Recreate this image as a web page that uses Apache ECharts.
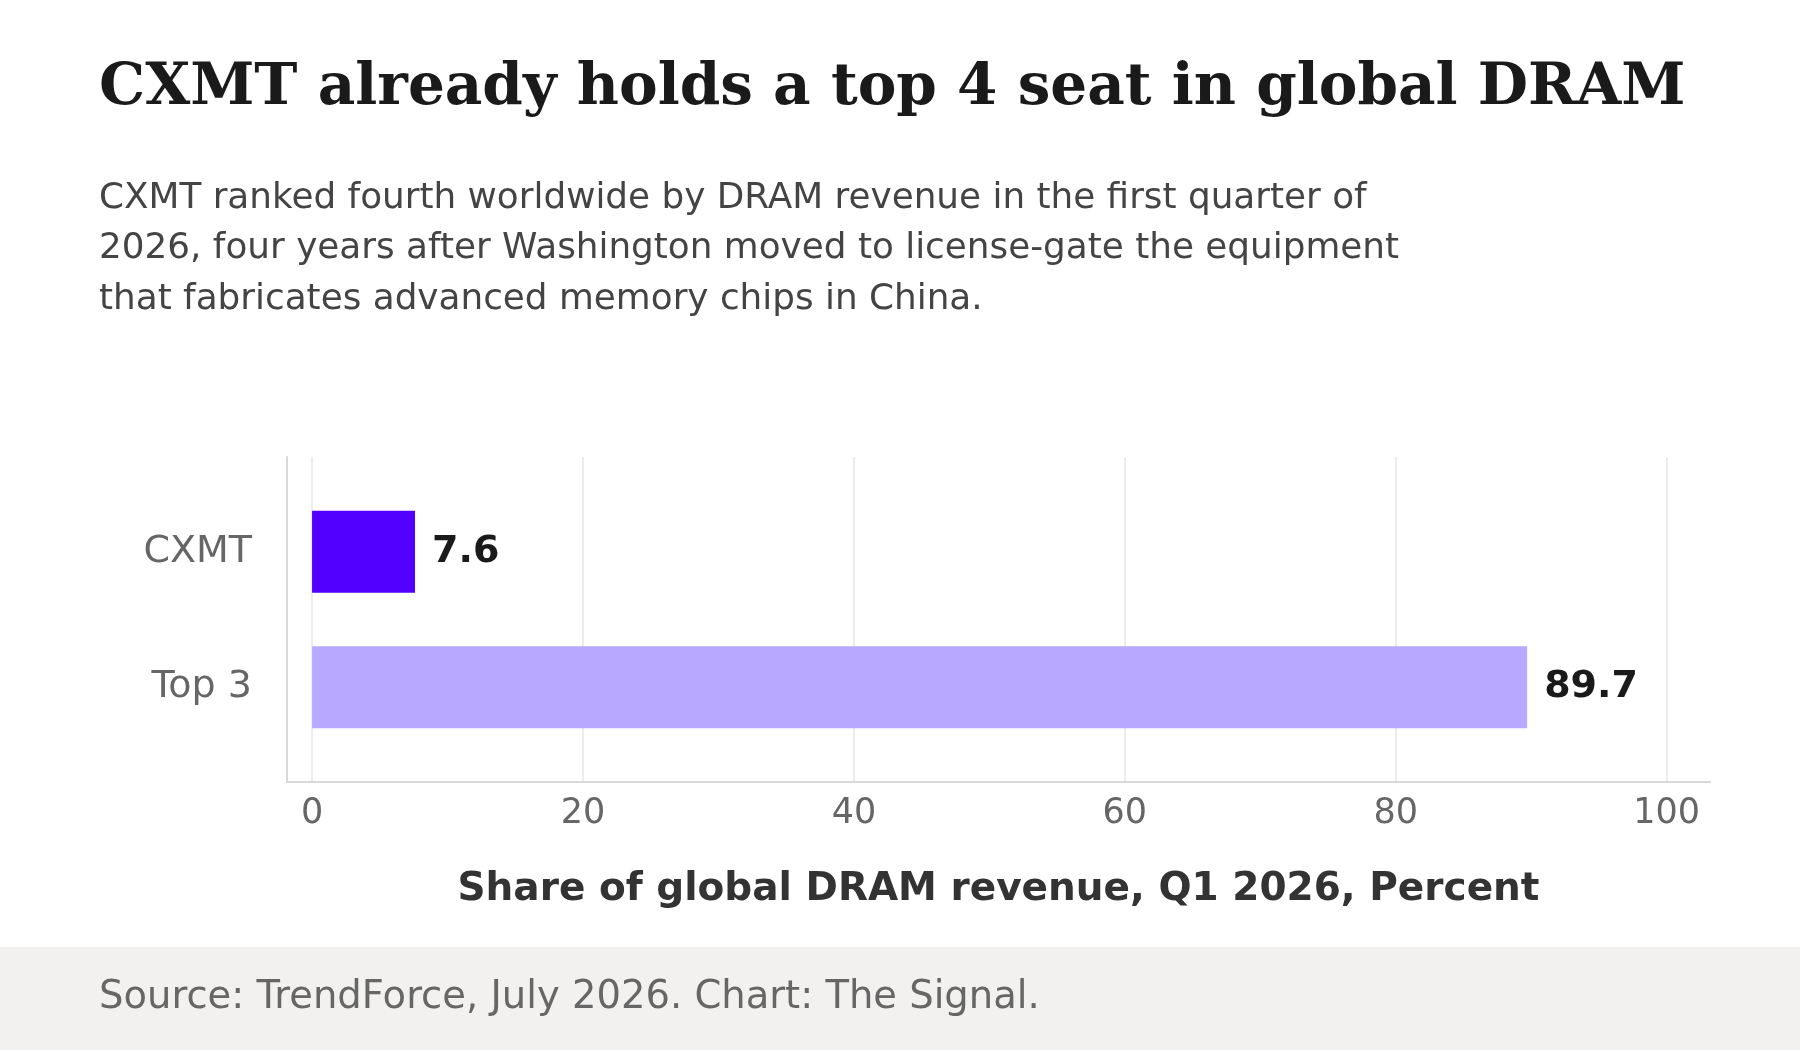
<!DOCTYPE html>
<html><head><meta charset="utf-8">
<script src="https://cdn.jsdelivr.net/npm/echarts@6/dist/echarts.min.js"></script>
<style>html,body{margin:0;padding:0;background:#fff}#c{width:1800px;height:1050px}</style>
</head><body><div id="c"></div>
<script>
const categories = ['Top 3', 'CXMT'];
const shares = [89.7, 7.6];
const barColors = ['#b8a9ff', '#5200ff'];
const tickValues = [0, 20, 40, 60, 80, 100];

const chart = echarts.init(document.getElementById('c'));
const font = 'DejaVu Sans';
chart.setOption({
  backgroundColor: '#fff',
  animation: false,
  graphic: [
    {type:'rect', shape:{x:0,y:947,width:1800,height:103}, style:{fill:'#f2f1f0'}, z:-1},
    {type:'text', left:99, top:60, style:{text:'CXMT already holds a top 4 seat in global DRAM', font:'bold 58px "DejaVu Serif"', fill:'#1a1a1a'}},
    {type:'text', left:99, top:173, style:{text:'CXMT ranked fourth worldwide by DRAM revenue in the first quarter of\n2026, four years after Washington moved to license-gate the equipment\nthat fabricates advanced memory chips in China.', font:'35.8px "DejaVu Sans"', lineHeight:50.5, fill:'#444'}},
    {type:'text', left:99, top:978, style:{text:'Source: TrendForce, July 2026. Chart: The Signal.', font:'38.5px "DejaVu Sans"', fill:'#666'}}
  ],
  grid: [
    {left:287, right:90, top:484, bottom:295},
    {left:287, right:90, top:457, bottom:268}
  ],
  xAxis: [{
    gridIndex:0, type:'value', min:-1.85, max:103.2, show:false
  }, {
    gridIndex:1, type:'value', min:-1.85, max:103.2,
    axisLine:{show:true, onZero:false, lineStyle:{color:'#d9d9d9', width:2}},
    axisTick:{show:false, customValues:tickValues},
    axisLabel:{customValues:tickValues, color:'#666', fontSize:35, fontFamily:font, margin:14},
    splitLine:{show:true, lineStyle:{color:'#e6e6e6', width:1.5}},
    name:'Share of global DRAM revenue, Q1 2026, Percent',
    nameLocation:'middle', nameGap:88,
    nameTextStyle:{fontSize:39, fontWeight:'bold', color:'#333', fontFamily:font}
  }],
  yAxis: [{
    gridIndex:0, type:'category', data:categories,
    axisLine:{show:false}, axisTick:{show:false}, splitLine:{show:false},
    axisLabel:{color:'#666', fontSize:38, fontFamily:font, margin:35}
  }, {
    gridIndex:1, type:'value', min:0, max:1,
    axisLine:{show:true, onZero:false, lineStyle:{color:'#d9d9d9', width:2}},
    axisTick:{show:false}, axisLabel:{show:false}, splitLine:{show:false}
  }],
  series: [{
    type:'bar', xAxisIndex:0, yAxisIndex:0, barWidth:82,
    data: shares.map((v,i)=>({value:v, itemStyle:{color:barColors[i]}})),
    label:{show:true, position:'right', distance:17, fontSize:38, fontWeight:'bold', color:'#1a1a1a', fontFamily:font}
  }]
});
</script></body></html>
